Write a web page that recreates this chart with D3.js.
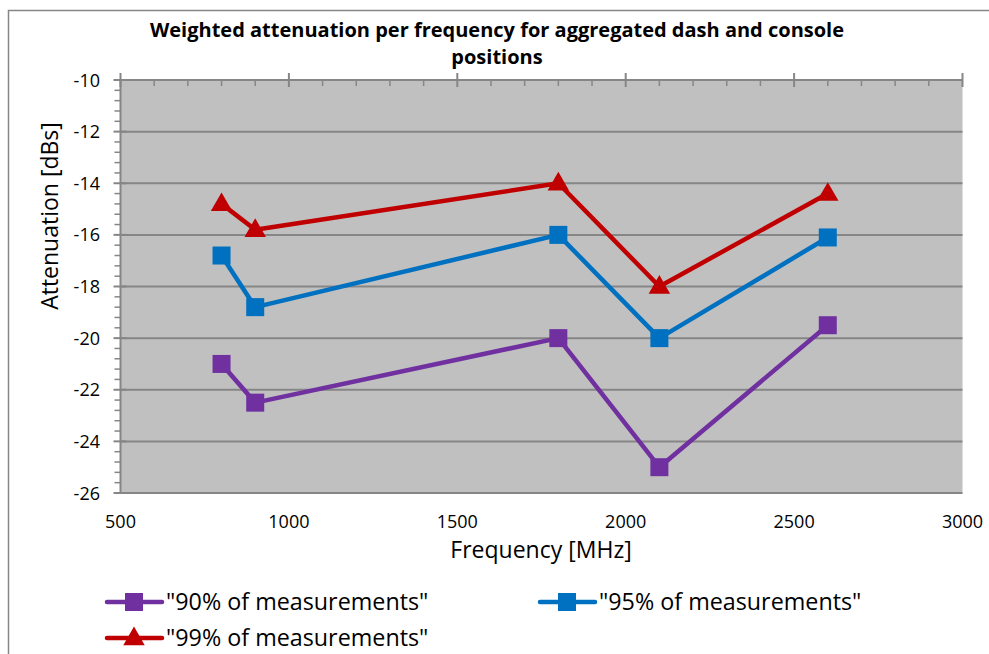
<!DOCTYPE html>
<html lang="en">
<head>
    <meta charset="UTF-8">
    <title>Weighted attenuation</title>
    <style>
        body { margin: 0; padding: 0; background: #fff; }
        svg { display: block; font-family: "Open Sans", Lato, sans-serif; }
    </style>
</head>
<body>
    <svg id="chart" width="989" height="654"></svg>

    <script src="https://d3js.org/d3.v7.min.js"></script>
    <script>
        // data
        const frequencies = [800, 900, 1800, 2100, 2600];
        const pct90 = [-21, -22.5, -20, -25, -19.5];
        const pct95 = [-16.8, -18.8, -16, -20, -16.1];
        const pct99 = [-14.8, -15.8, -14, -18, -14.4];
        const seriesNames = ['"90% of measurements"', '"95% of measurements"', '"99% of measurements"'];
        const xTicks = [500, 1000, 1500, 2000, 2500, 3000];
        const yTicks = [-10, -12, -14, -16, -18, -20, -22, -24, -26];

        const series = [
            { name: seriesNames[0], values: pct90, color: '#7030a0', marker: 'square' },
            { name: seriesNames[1], values: pct95, color: '#0070c0', marker: 'square' },
            { name: seriesNames[2], values: pct99, color: '#c00000', marker: 'triangle' }
        ];

        const svg = d3.select('#chart');
        const axisColor = '#868686';

        // outer chart border (runs off the right and bottom edge)
        svg.append('rect')
            .attr('x', 8.5).attr('y', 10.5)
            .attr('width', 1000).attr('height', 700)
            .attr('fill', '#fff').attr('stroke', axisColor).attr('stroke-width', 1.5);

        const pLeft = 120.5, pRight = 962.5, pTop = 80, pBottom = 493;
        const x = d3.scaleLinear().domain([500, 3000]).range([pLeft, pRight]);
        const y = d3.scaleLinear().domain([-26, -10]).range([pBottom, pTop]);

        // plot area
        svg.append('rect')
            .attr('x', pLeft).attr('y', pTop)
            .attr('width', pRight - pLeft).attr('height', pBottom - pTop)
            .attr('fill', '#c0c0c0');

        // horizontal gridlines
        svg.append('g').selectAll('line')
            .data(yTicks)
            .enter().append('line')
            .attr('x1', pLeft).attr('x2', pRight)
            .attr('y1', d => y(d)).attr('y2', d => y(d))
            .attr('stroke', axisColor).attr('stroke-width', 2);

        // y axis: minor ticks outside, major ticks crossing
        const yMinor = d3.range(-26, -9.9, 0.4).filter(v => Math.abs(v / 2 - Math.round(v / 2)) > 0.01);
        const yAxisG = svg.append('g');
        yAxisG.append('line')
            .attr('x1', pLeft).attr('x2', pLeft).attr('y1', pTop).attr('y2', pBottom)
            .attr('stroke', axisColor).attr('stroke-width', 2);
        yAxisG.selectAll('.minor').data(yMinor).enter().append('line')
            .attr('x1', pLeft - 6).attr('x2', pLeft)
            .attr('y1', d => y(d)).attr('y2', d => y(d))
            .attr('stroke', axisColor).attr('stroke-width', 1.5);
        yAxisG.selectAll('.major').data(yTicks).enter().append('line')
            .attr('x1', pLeft - 7).attr('x2', pLeft + 6)
            .attr('y1', d => y(d)).attr('y2', d => y(d))
            .attr('stroke', axisColor).attr('stroke-width', 2);
        yAxisG.selectAll('text').data(yTicks).enter().append('text')
            .attr('x', 100).attr('y', d => y(d) + 6.5)
            .attr('text-anchor', 'end')
            .attr('font-size', 18).attr('fill', '#000')
            .text(d => String(d));

        // x axis line sits at the top (crosses at -10), labels at the bottom
        const xMinor = d3.range(600, 3000, 100).filter(v => v % 500 !== 0);
        const xAxisG = svg.append('g');
        xAxisG.append('line')
            .attr('x1', pLeft).attr('x2', pRight).attr('y1', pTop).attr('y2', pTop)
            .attr('stroke', axisColor).attr('stroke-width', 2);
        xAxisG.selectAll('.minor').data(xMinor).enter().append('line')
            .attr('x1', d => x(d)).attr('x2', d => x(d))
            .attr('y1', pTop).attr('y2', pTop + 6)
            .attr('stroke', axisColor).attr('stroke-width', 1.5);
        xAxisG.selectAll('.major').data(xTicks).enter().append('line')
            .attr('x1', d => x(d)).attr('x2', d => x(d))
            .attr('y1', pTop - 7).attr('y2', pTop + 7)
            .attr('stroke', axisColor).attr('stroke-width', 2);
        xAxisG.selectAll('text').data(xTicks).enter().append('text')
            .attr('x', d => x(d)).attr('y', 528)
            .attr('text-anchor', 'middle')
            .attr('font-size', 18).attr('fill', '#000')
            .text(d => d);

        // series lines and markers
        const line = d3.line()
            .x((d, i) => x(frequencies[i]))
            .y(d => y(d));

        const triangle = d3.symbol().type(d3.symbolTriangle).size(200);

        series.forEach(s => {
            svg.append('path')
                .datum(s.values)
                .attr('d', line)
                .attr('fill', 'none')
                .attr('stroke', s.color)
                .attr('stroke-width', 4.5)
                .attr('stroke-linejoin', 'round');

            const g = svg.append('g');
            if (s.marker === 'square') {
                g.selectAll('rect').data(s.values).enter().append('rect')
                    .attr('x', (d, i) => x(frequencies[i]) - 9)
                    .attr('y', d => y(d) - 9)
                    .attr('width', 18).attr('height', 18)
                    .attr('fill', s.color);
            } else {
                g.selectAll('path').data(s.values).enter().append('path')
                    .attr('d', triangle)
                    .attr('transform', (d, i) => `translate(${x(frequencies[i])},${y(d) + 1})`)
                    .attr('fill', s.color);
            }
        });

        // title
        const title = svg.append('text')
            .attr('text-anchor', 'middle')
            .attr('font-size', 20).attr('font-weight', 'bold').attr('fill', '#000');
        title.append('tspan').attr('x', 497).attr('y', 36.5)
            .text('Weighted attenuation per frequency for aggregated dash and console');
        title.append('tspan').attr('x', 497).attr('y', 64)
            .text('positions');

        // axis titles
        svg.append('text')
            .attr('x', 541).attr('y', 558)
            .attr('text-anchor', 'middle')
            .attr('font-size', 23).attr('fill', '#000')
            .text('Frequency [MHz]');
        svg.append('text')
            .attr('transform', 'translate(58,216) rotate(-90)')
            .attr('text-anchor', 'middle')
            .attr('font-size', 23).attr('fill', '#000')
            .text('Attenuation [dBs]');

        // legend
        const legendPos = [[107, 602], [540, 602], [107, 638]];
        series.forEach((s, i) => {
            const [lx, ly] = legendPos[i];
            const g = svg.append('g').attr('transform', `translate(${lx},${ly})`);
            g.append('line')
                .attr('x1', 0).attr('x2', 55).attr('y1', 0).attr('y2', 0)
                .attr('stroke', s.color).attr('stroke-width', 4.5)
                .attr('stroke-linecap', 'round');
            if (s.marker === 'square') {
                g.append('rect').attr('x', 18).attr('y', -9)
                    .attr('width', 18).attr('height', 18).attr('fill', s.color);
            } else {
                g.append('path').attr('d', triangle)
                    .attr('transform', 'translate(27,1)').attr('fill', s.color);
            }
            g.append('text')
                .attr('x', 59).attr('y', 8)
                .attr('font-size', 23.3).attr('fill', '#000')
                .text(s.name);
        });
    </script>
</body>
</html>
